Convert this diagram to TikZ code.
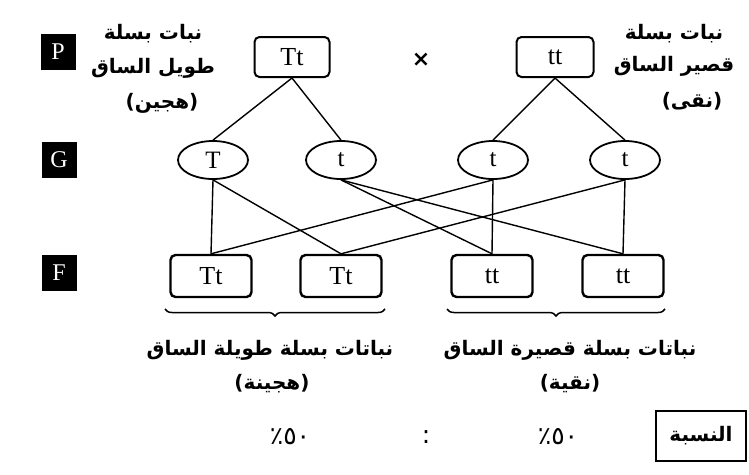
\documentclass[tikz,border=0pt]{standalone}
\usepackage{fontspec}
\setmainfont{Liberation Serif}
\newfontfamily\arabicfont[Script=Arabic]{DejaVu Sans}
\newfontfamily\symfont{DejaVu Sans}
\TeXXeTstate=1
\usetikzlibrary{shapes.geometric,decorations.pathreplacing}

\begin{document}
\begin{tikzpicture}[x=1pt,y=-1pt,
  pbox/.style={draw,line width=2pt,rounded corners=5pt,minimum width=75pt,
    minimum height=40pt,inner sep=0pt,font=\fontsize{26}{28}\selectfont},
  fbox/.style={pbox,minimum width=81pt,minimum height=42pt,line width=2.4pt},
  gam/.style={draw,ellipse,line width=1.8pt,minimum width=70pt,minimum height=38pt,
    inner sep=0pt,font=\fontsize{25}{27}\selectfont},
  tag/.style={fill=black,text=white,minimum width=35pt,minimum height=36pt,
    inner sep=0pt,font=\fontsize{24}{26}\selectfont},
  ar/.style={font=\arabicfont\bfseries\fontsize{20}{22}\selectfont,inner sep=0pt},
  num/.style={font=\arabicfont\fontsize{25}{27}\selectfont,inner sep=0pt},
  link/.style={line width=1.4pt},
  ubrace/.style={decorate,decoration={brace,mirror,amplitude=7pt},line width=1.5pt}]

\useasboundingbox[fill=white] (0,0) rectangle (749,474);

% generation tags
\node[tag] (tP) at (58,52) {P};
\node[tag] (tG) at (59,160) {G};
\node[tag] (tF) at (59,273) {F};

% parents
\node[pbox] (p1) at (292,57) {Tt};
\node[pbox,minimum width=77pt] (p2) at (555,57) {tt};
\node[font=\symfont\bfseries\fontsize{22}{24}\selectfont] (cross) at (421,60) {×};

% parent descriptions
\node[ar] (l1a) at (153,34) {\beginR نبات بسلة\endR};
\node[ar] (l1b) at (153,68) {\beginR طويل الساق\endR};
\node[ar] (l1c) at (162,103) {\beginR (هجين)\endR};
\node[ar] (l2a) at (674,34) {\beginR نبات بسلة\endR};
\node[ar] (l2b) at (674,66) {\beginR قصير الساق\endR};
\node[ar] (l2c) at (692,101) {\beginR (نقى)\endR};

% gametes
\node[gam] (g1) at (213,160) {T};
\node[gam] (g2) at (341,160) {t};
\node[gam] (g3) at (493,160) {t};
\node[gam] (g4) at (625,160) {t};

% offspring
\node[fbox] (f1) at (211,276) {Tt};
\node[fbox] (f2) at (341,276) {Tt};
\node[fbox] (f3) at (492,276) {tt};
\node[fbox] (f4) at (623,276) {tt};

% parents to gametes
\draw[link] (p1.south) -- (g1.north);
\draw[link] (p1.south) -- (g2.north);
\draw[link] (p2.south) -- (g3.north);
\draw[link] (p2.south) -- (g4.north);

% gametes to offspring
\draw[link] (g1.south) -- (f1.north);
\draw[link] (g1.south) -- (f2.north);
\draw[link] (g2.south) -- (f3.north);
\draw[link] (g2.south) -- (f4.north);
\draw[link] (g3.south) -- (f3.north);
\draw[link] (g3.south) -- (f1.north);
\draw[link] (g4.south) -- (f4.north);
\draw[link] (g4.south) -- (f2.north);

% grouping braces
\coordinate (b1l) at (165,309);
\coordinate (b1r) at (385,309);
\coordinate (b2l) at (447,309);
\coordinate (b2r) at (665,309);
\draw[ubrace] (b1l) -- (b1r);
\draw[ubrace] (b2l) -- (b2r);

% offspring descriptions
\node[ar] (d1a) at (270,350) {\beginR نباتات بسلة طويلة الساق\endR};
\node[ar] (d1b) at (272,384) {\beginR (هجينة)\endR};
\node[ar] (d2a) at (570,350) {\beginR نباتات بسلة قصيرة الساق\endR};
\node[ar] (d2b) at (570,384) {\beginR (نقية)\endR};

% ratio row
\node[num] (r1) at (290,437) {٥٠٪};
\node[num] (rc) at (426,437) {:};
\node[num] (r2) at (558,437) {٥٠٪};
\node[draw,line width=2pt,minimum width=90pt,minimum height=50pt,ar] (rt) at (701,436)
  {\beginR النسبة\endR};
\end{tikzpicture}
\end{document}
